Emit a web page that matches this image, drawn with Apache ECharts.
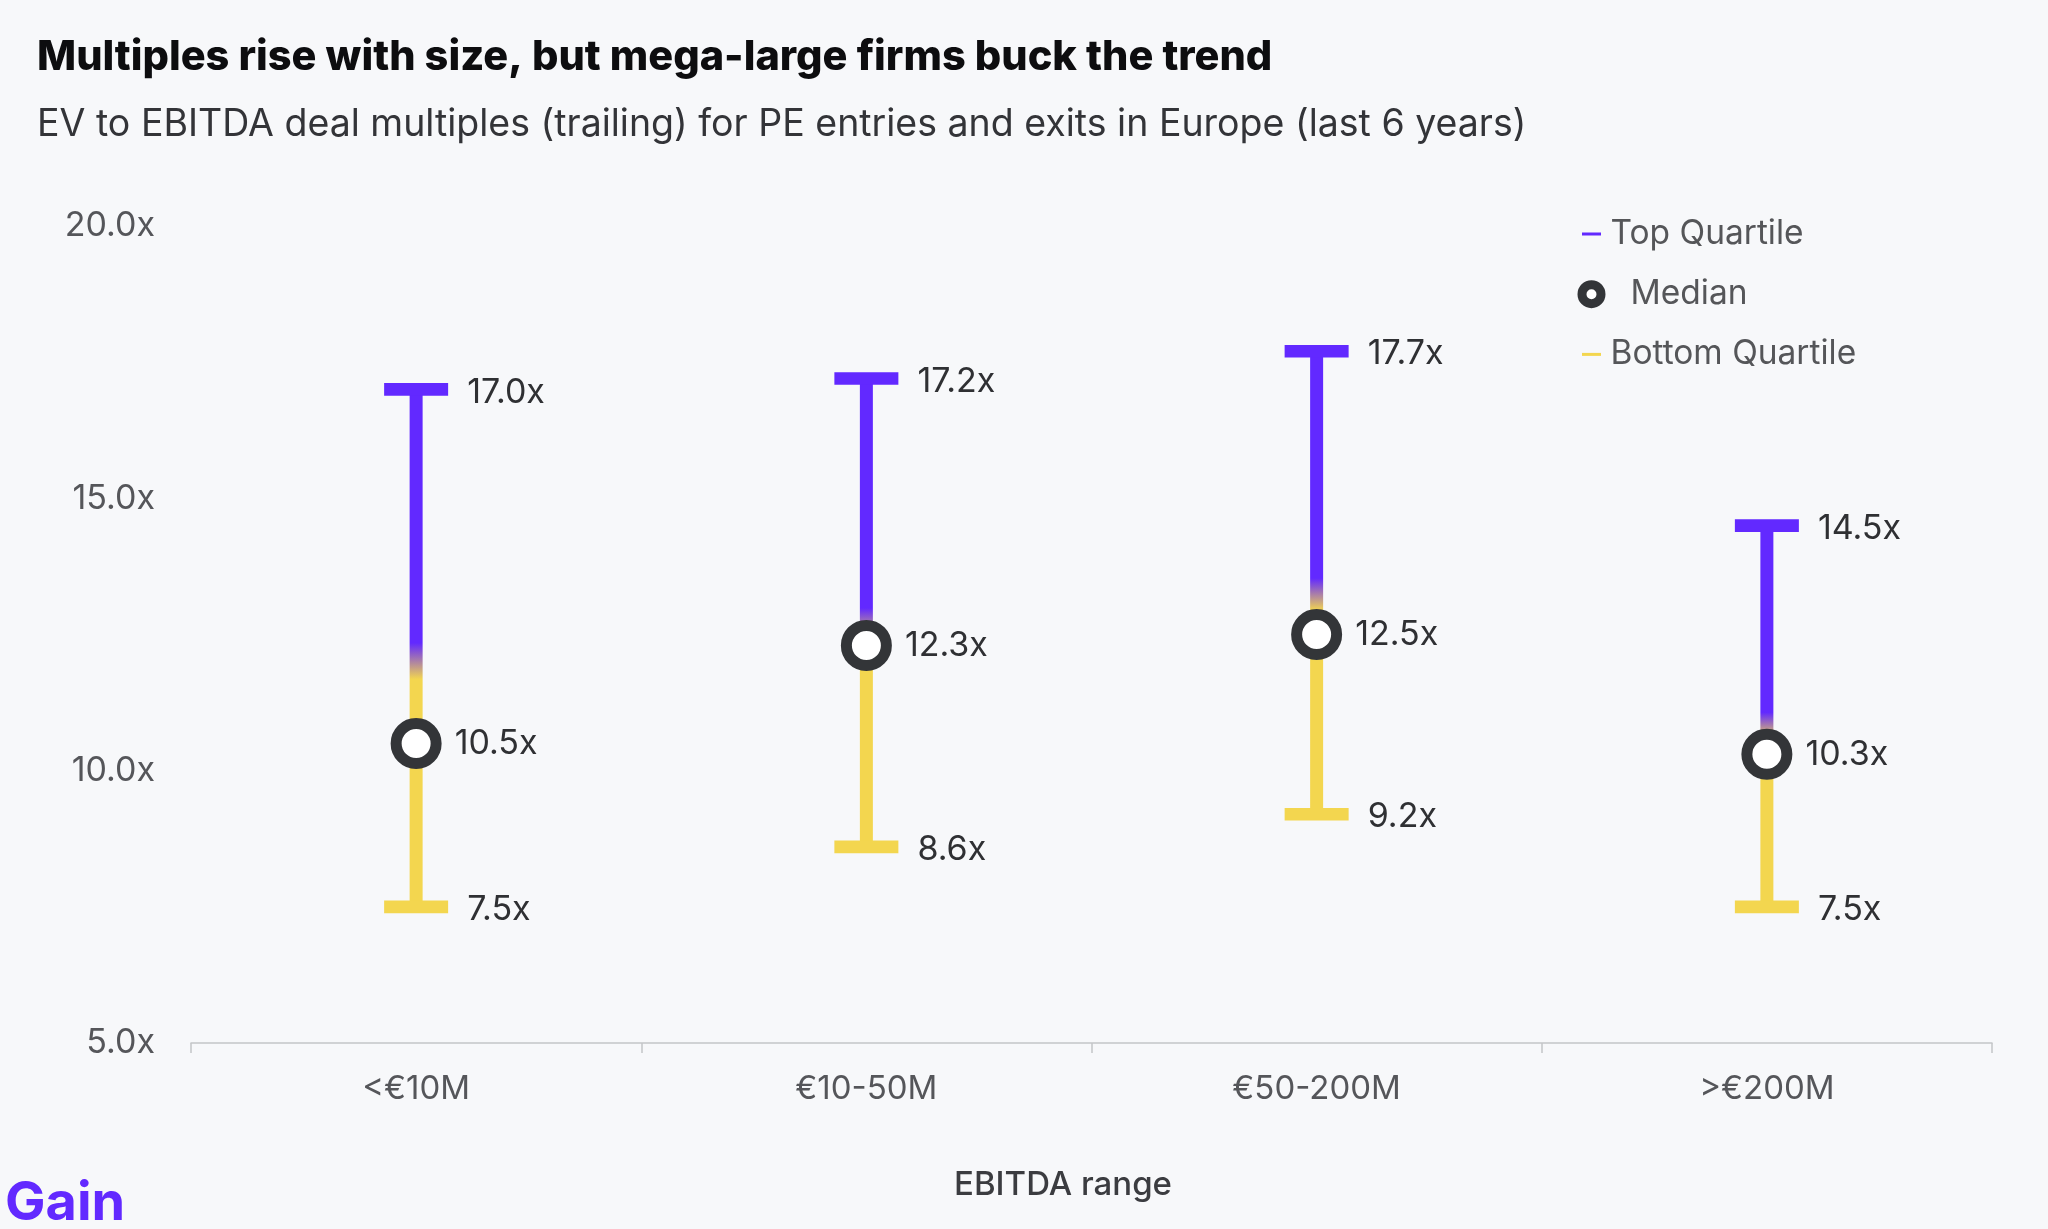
<!DOCTYPE html>
<html>
<head>
<meta charset="utf-8">
<script src="https://cdn.jsdelivr.net/npm/echarts@6/dist/echarts.min.js"></script>
<style>
html,body{margin:0;padding:0;background:#F7F8FA;}
#chart{width:2048px;height:1229px;}
</style>
</head>
<body>
<div id="chart"></div>
<script>
// ---- data ----
const categories = ['<€10M', '€10-50M', '€50-200M', '>€200M'];
const topQuartile = [17.0, 17.2, 17.7, 14.5];
const medianValues = [10.5, 12.3, 12.5, 10.3];
const bottomQuartile = [7.5, 8.6, 9.2, 7.5];
const yMin = 5, yMax = 20, yInterval = 5;
const titleText = 'Multiples rise with size, but mega-large firms buck the trend';
const subtitleText = 'EV to EBITDA deal multiples (trailing) for PE entries and exits in Europe (last 6 years)';
const xAxisName = 'EBITDA range';

const PURPLE = '#6229FF';
const YELLOW = '#F3D64F';
const RING = '#333538';
const FONT = 'Inter, "Noto Sans", sans-serif';
const fmt = v => v.toFixed(1) + 'x';

const chart = echarts.init(document.getElementById('chart'));

function renderWhisker(params, api) {
  const i = api.value(0);
  const lo = api.coord([i, api.value(1)]);
  const hi = api.coord([i, api.value(2)]);
  const x = hi[0];
  return {
    type: 'group',
    children: [
      {
        type: 'rect',
        shape: { x: x - 6.5, y: hi[1], width: 13, height: lo[1] - hi[1] },
        style: {
          fill: new echarts.graphic.LinearGradient(0, 1, 0, 0, [
            { offset: 0, color: YELLOW },
            { offset: 0.44, color: YELLOW },
            { offset: 0.51, color: PURPLE },
            { offset: 1, color: PURPLE }
          ])
        }
      },
      {
        type: 'rect',
        shape: { x: x - 32, y: hi[1] - 6.35, width: 64, height: 12.7 },
        style: { fill: PURPLE }
      },
      {
        type: 'text',
        x: x + 51, y: hi[1] + 3,
        style: { text: fmt(api.value(2)), fill: '#2f3033', font: '34px ' + FONT, align: 'left', verticalAlign: 'middle' }
      }
    ]
  };
}

function renderBottom(params, api) {
  const i = api.value(0);
  const lo = api.coord([i, api.value(1)]);
  const x = lo[0];
  return {
    type: 'group',
    children: [
      {
        type: 'rect',
        shape: { x: x - 32, y: lo[1] - 6.35, width: 64, height: 12.7 },
        style: { fill: YELLOW }
      },
      {
        type: 'text',
        x: x + 51, y: lo[1] + 3,
        style: { text: fmt(api.value(1)), fill: '#2f3033', font: '34px ' + FONT, align: 'left', verticalAlign: 'middle' }
      }
    ]
  };
}

const lineIcon = 'path://M0,0 M28,28 M4.5,12.5 L23.5,12.5 L23.5,15.5 L4.5,15.5 Z';
const ringIcon = 'path://M0,0 M28,28 M14,4.5 A9.5,9.5 0 1,1 13.99,4.5 Z';

const option = {
  backgroundColor: '#F7F8FA',
  textStyle: { fontFamily: FONT },
  animation: false,
  title: [
    { text: titleText, left: 37, top: 37, padding: 0, textStyle: { fontSize: 41.5, fontWeight: 800, color: '#0d0d0f', fontFamily: FONT } },
    { text: subtitleText, left: 37, top: 106, padding: 0, textStyle: { fontSize: 37.5, fontWeight: 'normal', color: '#333438', fontFamily: FONT } }
  ],
  legend: {
    orient: 'vertical',
    left: 1573,
    top: 217,
    padding: 0,
    itemWidth: 28,
    itemHeight: 28,
    itemGap: 24.7,
    textStyle: { fontSize: 33.5, color: '#555659', lineHeight: 33, fontFamily: FONT },
    data: [
      { name: 'Top Quartile', icon: lineIcon, itemStyle: { color: PURPLE, borderWidth: 0 } },
      { name: 'Median', icon: ringIcon, itemStyle: { color: '#ffffff', borderColor: RING, borderWidth: 9 }, textStyle: { padding: [0, 0, 0, 20] } },
      { name: 'Bottom Quartile', icon: lineIcon, itemStyle: { color: YELLOW, borderWidth: 0 } }
    ]
  },
  grid: { left: 191, right: 56, top: 226, bottom: 186, containLabel: false },
  xAxis: {
    type: 'category',
    data: categories,
    boundaryGap: true,
    axisLine: { lineStyle: { color: '#c4c5c8', width: 1.5 } },
    axisTick: { show: true, length: 10, lineStyle: { color: '#c4c5c8', width: 1.5 } },
    axisLabel: { fontSize: 33, color: '#55565a', margin: 30, fontFamily: FONT },
    splitLine: { show: false }
  },
  yAxis: {
    type: 'value',
    min: yMin, max: yMax, interval: yInterval,
    axisLine: { show: false },
    axisTick: { show: false },
    splitLine: { show: false },
    axisLabel: { fontSize: 34, color: '#55565a', margin: 36, padding: [4, 0, 0, 0], formatter: v => fmt(v), fontFamily: FONT }
  },
  graphic: [
    { type: 'text', x: 1063, y: 1185, style: { text: xAxisName, font: '500 33px ' + FONT, fill: '#3b3c40', align: 'center', verticalAlign: 'middle' } },
    { type: 'text', x: 5, y: 1204, style: { text: 'Gain', font: 'bold 54px ' + FONT, fill: PURPLE, align: 'left', verticalAlign: 'middle' } }
  ],
  series: [
    {
      name: 'Top Quartile',
      type: 'custom',
      itemStyle: { color: PURPLE },
      renderItem: renderWhisker,
      encode: { x: 0, y: [1, 2] },
      data: categories.map((c, i) => [i, bottomQuartile[i], topQuartile[i]]),
      z: 2
    },
    {
      name: 'Bottom Quartile',
      type: 'custom',
      itemStyle: { color: YELLOW },
      renderItem: renderBottom,
      encode: { x: 0, y: 1 },
      data: categories.map((c, i) => [i, bottomQuartile[i]]),
      z: 3
    },
    {
      name: 'Median',
      type: 'scatter',
      symbol: 'circle',
      symbolSize: 40,
      itemStyle: { color: '#ffffff', borderColor: RING, borderWidth: 11, opacity: 1 },
      label: { show: true, position: 'right', distance: 13, formatter: p => fmt(p.value[1]), fontSize: 34, color: '#2f3033', fontFamily: FONT },
      data: categories.map((c, i) => [i, medianValues[i]]),
      z: 5
    }
  ]
};
chart.setOption(option);
</script>
</body>
</html>
